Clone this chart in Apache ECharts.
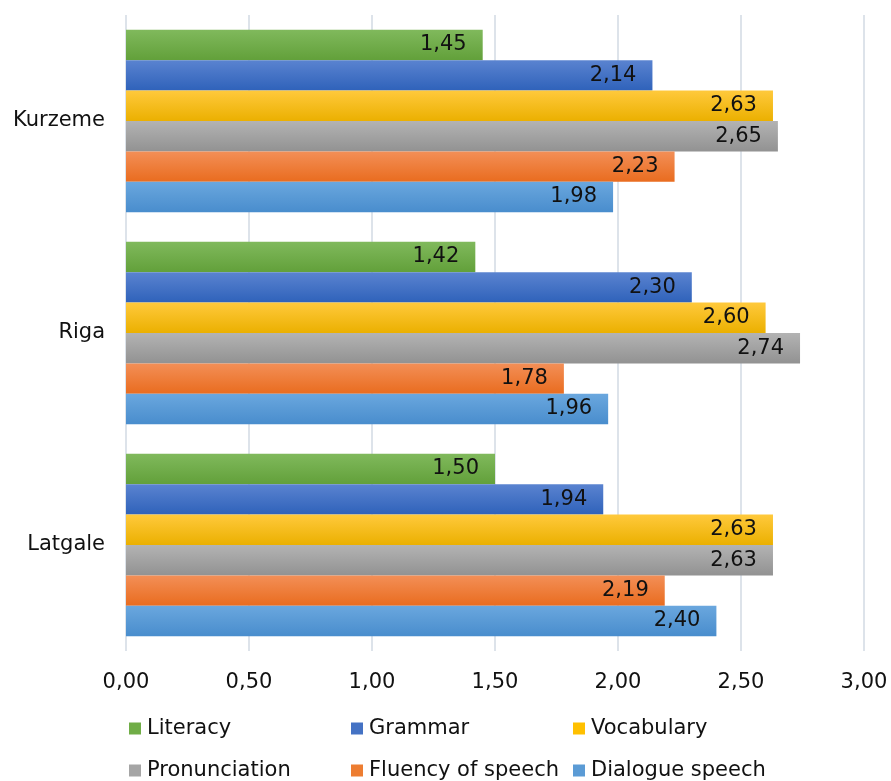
<!DOCTYPE html>
<html>
<head>
<meta charset="utf-8">
<script src="https://cdn.jsdelivr.net/npm/echarts@6/dist/echarts.min.js"></script>
<style>
  html, body { margin: 0; padding: 0; background: #fff; }
  #chart { width: 891px; height: 781px; }
</style>
</head>
<body>
<div id="chart"></div>
<script>
// Regions (top to bottom)
const regions = ['Kurzeme', 'Riga', 'Latgale'];

// One array per skill, in region order
const literacy = [1.45, 1.42, 1.50];
const grammar = [2.14, 2.30, 1.94];
const vocabulary = [2.63, 2.60, 2.63];
const pronunciation = [2.65, 2.74, 2.63];
const fluency = [2.23, 1.78, 2.19];
const dialogue = [1.98, 1.96, 2.40];

const seriesNames = ['Literacy', 'Grammar', 'Vocabulary', 'Pronunciation', 'Fluency of speech', 'Dialogue speech'];
const seriesData = [literacy, grammar, vocabulary, pronunciation, fluency, dialogue];

// gradient top / bottom colours per series
const palette = [
    ['#80b95c', '#62a03a'],
    ['#5a83d0', '#2f62ba'],
    ['#ffc93c', '#ebb000'],
    ['#b3b3b3', '#929292'],
    ['#f38f57', '#e96c1f'],
    ['#6aa7de', '#498dcd']
];
const legendColors = ['#70ad47', '#4472c4', '#ffc000', '#a5a5a5', '#ed7d31', '#5b9bd5'];

const fmt = (v) => v.toFixed(2).replace('.', ',');
const FONT = "'DejaVu Sans', Verdana, sans-serif";
const FS = 21;

const chart = echarts.init(document.getElementById('chart'));

const series = seriesNames.map((name, i) => ({
    name: name,
    type: 'bar',
    data: seriesData[i],
    barGap: '0%',
    barCategoryGap: '14%',
    itemStyle: {
        color: new echarts.graphic.LinearGradient(0, 0, 0, 1, [
            { offset: 0, color: palette[i][0] },
            { offset: 1, color: palette[i][1] }
        ])
    },
    label: {
        show: true,
        position: 'insideRight',
        distance: 16,
        color: '#111',
        fontFamily: FONT,
        fontSize: FS,
        formatter: (p) => fmt(p.value)
    }
}));

// one legend per entry so the columns line up like the original
const legendPos = [
    [129, 718], [351, 718], [573, 718],
    [129, 760], [351, 760], [573, 760]
];
const legends = seriesNames.map((name, i) => ({
    data: [{ name: name, itemStyle: { color: legendColors[i] } }],
    left: legendPos[i][0],
    top: legendPos[i][1],
    padding: 0,
    itemWidth: 12,
    itemHeight: 12,
    icon: 'rect',
    selectedMode: false,
    textStyle: { fontFamily: FONT, fontSize: FS, color: '#111', padding: [0, 0, 0, 1] }
}));

chart.setOption({
    animation: false,
    backgroundColor: '#fff',
    grid: { left: 126, right: 27, top: 15, height: 636, containLabel: false },
    legend: legends,
    xAxis: {
        type: 'value',
        min: 0,
        max: 3,
        interval: 0.5,
        axisLine: { show: false },
        axisTick: { show: false },
        axisLabel: {
            margin: 21,
            color: '#111',
            fontFamily: FONT,
            fontSize: FS,
            formatter: (v) => fmt(v)
        },
        splitLine: { lineStyle: { color: '#dde3ea', width: 2 } }
    },
    yAxis: {
        type: 'category',
        data: regions,
        inverse: true,
        axisLine: { show: false },
        axisTick: { show: false },
        axisLabel: {
            margin: 21,
            color: '#111',
            fontFamily: FONT,
            fontSize: FS
        }
    },
    series: series
});
</script>
</body>
</html>
